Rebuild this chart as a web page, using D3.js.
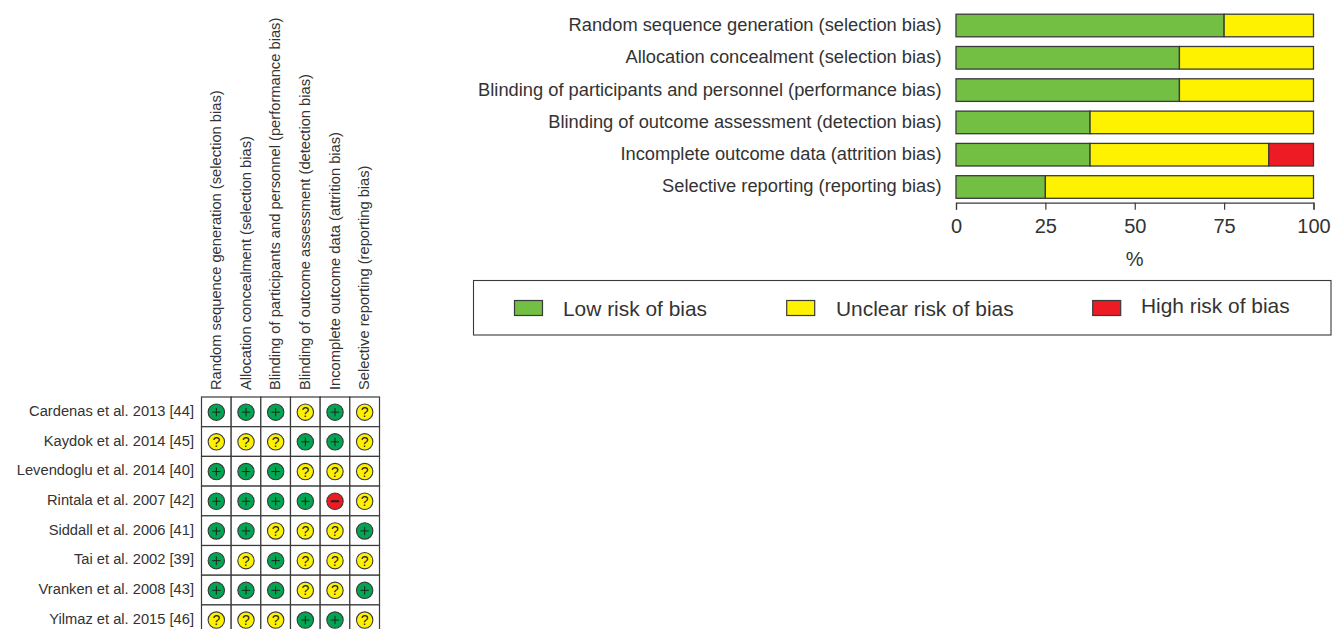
<!DOCTYPE html>
<html><head><meta charset="utf-8">
<script src="https://cdn.jsdelivr.net/npm/d3@7"></script>
<style>html,body{margin:0;padding:0;background:#fff}svg{display:block}text{font-family:"Liberation Sans",Arial,sans-serif;fill:#333}</style>
</head><body><svg id="c" width="1333" height="629"></svg>
<script>
const domains=["Random sequence generation (selection bias)","Allocation concealment (selection bias)","Blinding of participants and personnel (performance bias)","Blinding of outcome assessment (detection bias)","Incomplete outcome data (attrition bias)","Selective reporting (reporting bias)"];
const studies=["Cardenas et al. 2013 [44]","Kaydok et al. 2014 [45]","Levendoglu et al. 2014 [40]","Rintala et al. 2007 [42]","Siddall et al. 2006 [41]","Tai et al. 2002 [39]","Vranken et al. 2008 [43]","Yilmaz et al. 2015 [46]"];
const judgements=["+ + + ? + ?","? ? ? + + ?","+ + + ? ? ?","+ + + + - ?","+ + ? ? ? +","+ ? + ? ? ?","+ + + ? ? +","? ? ? + + ?"];
const lowRisk=[75,62.5,62.5,37.5,37.5,25];
const unclearRisk=[25,37.5,37.5,62.5,50,75];
const highRisk=[0,0,0,0,12.5,0];
const riskLabels=["Low risk of bias","Unclear risk of bias","High risk of bias"];
const xTicks=[0,25,50,75,100];
const riskColors=["#72bf44","#fff200","#ed1c24"];
const ink="#3a3a3a";
const svg=d3.select("#c");

// Top-right stacked bars
const x=d3.scaleLinear().domain([0,100]).range([956,1313.5]);
const yBar=d3.scalePoint().domain(domains).range([14.2,175.7]);
const gBars=svg.append("g");
domains.forEach((d,i)=>{
  let acc=0;
  [lowRisk[i],unclearRisk[i],highRisk[i]].forEach((v,k)=>{
    if(v>0){
      gBars.append("rect").attr("x",x(acc)).attr("y",yBar(d)).attr("width",x(acc+v)-x(acc)).attr("height",22.6)
        .attr("fill",riskColors[k]).attr("stroke",ink).attr("stroke-width",1.3);
    }
    acc+=v;
  });
  gBars.append("text").attr("x",941.5).attr("y",yBar(d)+10.3).attr("dy","0.35em").attr("text-anchor","end")
    .attr("font-size",18.3).text(d);
});
const ax=svg.append("g").attr("transform","translate(0,202.7)")
  .call(d3.axisBottom(x).tickValues(xTicks).tickSize(7).tickSizeOuter(7).tickPadding(9));
ax.selectAll("path,line").attr("stroke",ink).attr("stroke-width",1.2);
ax.selectAll("text").attr("font-size",20).attr("font-family","Liberation Sans").attr("fill","#333");
svg.append("text").attr("x",x(50)).attr("y",266).attr("text-anchor","middle").attr("font-size",20).text("%");

// Legend
svg.append("rect").attr("x",473.5).attr("y",280.5).attr("width",857.5).attr("height",54.5).attr("fill","#fff").attr("stroke",ink).attr("stroke-width",1.1);
const legendX=d3.scaleOrdinal().domain(riskLabels).range([514.5,786.7,1092.7]);
const legendTextX=d3.scaleOrdinal().domain(riskLabels).range([563,836,1141]);
const legendBase=d3.scaleOrdinal().domain(riskLabels).range([315.5,316,312.5]);
riskLabels.forEach((l,i)=>{
  svg.append("rect").attr("x",legendX(l)).attr("y",300.5).attr("width",28).attr("height",15).attr("fill",riskColors[i]).attr("stroke",ink).attr("stroke-width",1.2);
  svg.append("text").attr("x",legendTextX(l)).attr("y",legendBase(l)).attr("font-size",20.9).text(l);
});

// Risk of bias grid
const cx=d3.scaleBand().domain(domains).range([201.5,379.5]);
const cy=d3.scaleBand().domain(studies).range([397,397+29.7*8]);
const glyph={"+":"#00a651","?":"#fff200","-":"#ed1c24"};
const grid=svg.append("g");
studies.forEach((s,r)=>{
  grid.append("text").attr("x",194).attr("y",cy(s)+cy.bandwidth()/2-1).attr("dy","0.35em").attr("text-anchor","end").attr("font-size",14.7).text(s);
  judgements[r].split(" ").forEach((j,c)=>{
    const d=domains[c],X=cx(d),Y=cy(s),w=cx.bandwidth(),h=cy.bandwidth(),mx=X+w/2,my=Y+h/2+0.3;
    grid.append("rect").attr("x",X).attr("y",Y).attr("width",w).attr("height",h).attr("fill","#fff").attr("stroke",ink).attr("stroke-width",1.2);
    grid.append("circle").attr("cx",mx).attr("cy",my).attr("r",8.2).attr("fill",glyph[j]).attr("stroke",ink).attr("stroke-width",1.1);
    if(j==="?"){
      grid.append("text").attr("x",mx).attr("y",my).attr("dy","0.36em").attr("text-anchor","middle").attr("font-size",14).style("fill","#222").text("?");
    }else{
      grid.append("line").attr("x1",mx-4.2).attr("x2",mx+4.2).attr("y1",my).attr("y2",my).attr("stroke","#222").attr("stroke-width",j==="-"?2:1);
      if(j==="+")grid.append("line").attr("x1",mx).attr("x2",mx).attr("y1",my-4.2).attr("y2",my+4.2).attr("stroke","#222").attr("stroke-width",1);
    }
  });
});
domains.forEach(d=>{
  const px=cx(d)+cx.bandwidth()/2;
  svg.append("text").attr("transform",`translate(${px+4.5},390) rotate(-90)`).attr("font-size",14.7).text(d);
});
</script></body></html>
